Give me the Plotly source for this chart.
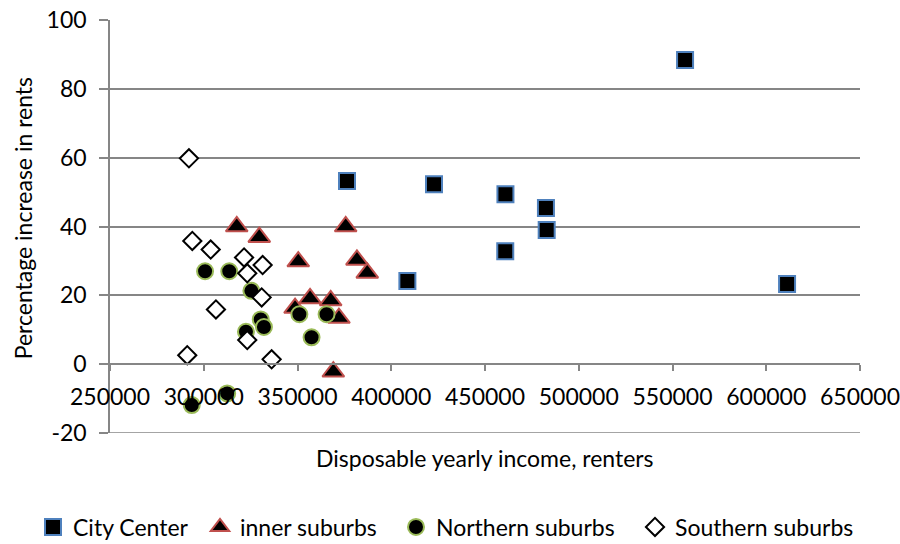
import plotly.graph_objects as go

# Disposable yearly income of renters vs. percentage increase in rents, by area
city_income = [376400, 422800, 460900, 482500, 482900, 460800, 408600, 556700, 611100]
city_rent = [53.2, 52.3, 49.4, 45.4, 39.0, 32.8, 24.2, 88.4, 23.3]

inner_income = [317600, 329600, 350400, 375700, 381700, 387200, 356700, 367700, 372100, 348700, 369100]
inner_rent = [40.0, 36.9, 29.8, 40.0, 30.3, 26.5, 19.1, 18.5, 13.4, 16.3, -2.2]

north_income = [300700, 313600, 325400, 330400, 332100, 322500, 293600, 312500, 351000, 365500, 357500]
north_rent = [27.0, 27.0, 21.3, 13.0, 10.8, 9.4, -11.9, -8.5, 14.5, 14.5, 7.8]

south_income = [292100, 293900, 303700, 321500, 331400, 323200, 330900, 306500, 323200, 291200, 336200]
south_rent = [59.8, 35.8, 33.3, 31.0, 28.8, 26.4, 19.4, 15.9, 7.0, 2.6, 1.4]

x_ticks = [250000, 300000, 350000, 400000, 450000, 500000, 550000, 600000, 650000]
y_ticks = [-20, 0, 20, 40, 60, 80, 100]

FONT = "Lato"
FS = 23
GRID = "#868686"

fig = go.Figure()

fig.add_trace(go.Scatter(
    x=city_income, y=city_rent, mode="markers", name="City Center", legend="legend",
    marker=dict(symbol="square", size=16, color="black",
                line=dict(color="#4F81BD", width=2)),
))
fig.add_trace(go.Scatter(
    x=inner_income, y=inner_rent, mode="markers", name="inner suburbs", legend="legend2",
    marker=dict(symbol="triangle-up", size=19, color="black",
                line=dict(color="#C0504D", width=2)),
))
fig.add_trace(go.Scatter(
    x=north_income, y=north_rent, mode="markers", name="Northern suburbs", legend="legend3",
    marker=dict(symbol="circle", size=16, color="black",
                line=dict(color="#9BBB59", width=2)),
))
fig.add_trace(go.Scatter(
    x=south_income, y=south_rent, mode="markers", name="Southern suburbs", legend="legend4",
    marker=dict(symbol="diamond", size=14, color="white",
                line=dict(color="black", width=2)),
))


def legend_at(left_px):
    # one legend box per series, laid out in a single row under the chart
    return dict(
        orientation="h", xref="container", yref="container",
        x=left_px / 900, xanchor="left", y=1 - 527 / 544, yanchor="middle",
        itemwidth=30, font=dict(family=FONT, size=FS),
        bgcolor="rgba(0,0,0,0)",
    )


fig.update_layout(
    width=900, height=544,
    margin=dict(l=110, r=40, t=20, b=111, autoexpand=False),
    paper_bgcolor="white", plot_bgcolor="white",
    font=dict(family=FONT, size=FS, color="black"),
    xaxis=dict(
        range=[250000, 650000], tickvals=x_ticks,
        ticktext=[str(v) for v in x_ticks],
        ticklabeloverflow="allow", ticklabelstandoff=6,
        showgrid=False, zeroline=False,
        anchor="free", position=1 / 6,
        showline=True, linecolor=GRID, linewidth=1.5,
        ticks="outside", ticklen=6, tickcolor=GRID, tickwidth=1.5,
    ),
    yaxis=dict(
        range=[-20, 100], tickvals=y_ticks,
        ticktext=[str(v) for v in y_ticks],
        ticklabelstandoff=8,
        showgrid=True, gridcolor=GRID, gridwidth=1.5,
        zeroline=False,
        showline=True, linecolor=GRID, linewidth=1.5,
        ticks="outside", ticklen=9, tickcolor=GRID, tickwidth=1.5,
    ),
    showlegend=True,
    legend=legend_at(33),
    legend2=legend_at(200),
    legend3=legend_at(396),
    legend4=legend_at(635),
    shapes=[
        # bottom gridline at the lowest y tick
        dict(type="line", xref="paper", x0=0, x1=1, yref="y",
             y0=y_ticks[0], y1=y_ticks[0], line=dict(color=GRID, width=1.5),
             layer="below"),
    ],
    annotations=[
        dict(text="Disposable yearly income, renters", xref="paper", yref="paper",
             x=0.5, y=-0.06, xanchor="center", yanchor="middle",
             showarrow=False, font=dict(family=FONT, size=FS)),
        dict(text="Percentage increase in rents", xref="paper", yref="paper",
             x=-0.116, y=0.52, xanchor="center", yanchor="middle", textangle=-90,
             showarrow=False, font=dict(family=FONT, size=FS)),
    ],
)

fig.write_html("out.html")
